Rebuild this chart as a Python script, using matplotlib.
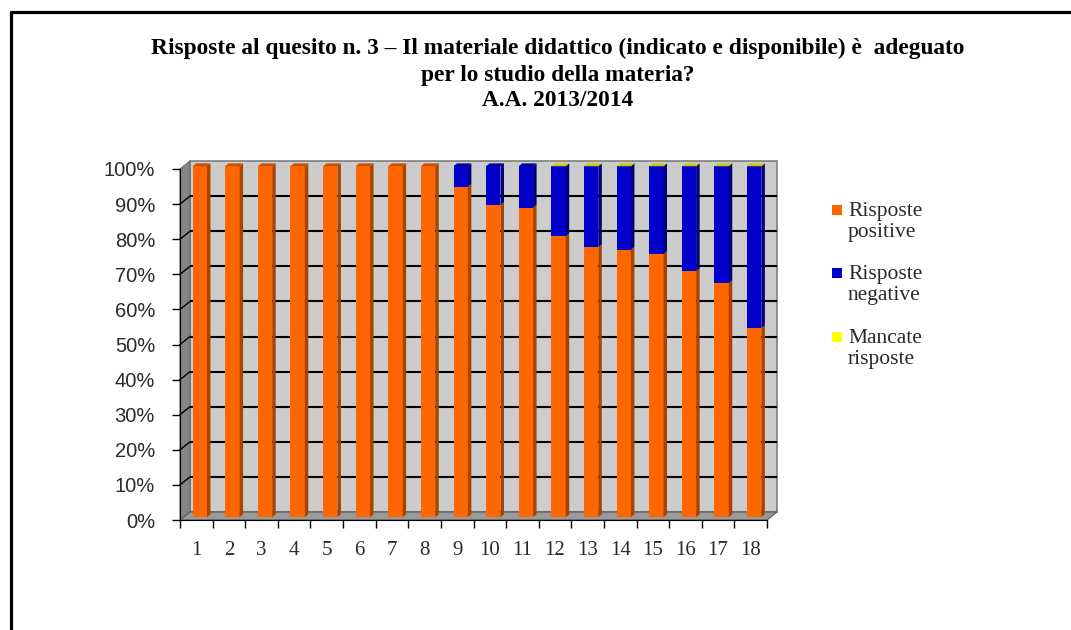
import numpy as np
import matplotlib
matplotlib.use("Agg")
import matplotlib.pyplot as plt
from matplotlib.patches import Polygon, Rectangle
from matplotlib.lines import Line2D

nan = np.nan

categories = ["1", "2", "3", "4", "5", "6", "7", "8", "9", "10",
              "11", "12", "13", "14", "15", "16", "17", "18"]
positive = [100, 100, 100, 100, 100, 100, 100, 100, 94.1, 88.9,
            88.2, 80.0, 76.9, 76.2, 75.0, 70.0, 66.7, 53.8]
negative = [nan, nan, nan, nan, nan, nan, nan, nan, 5.9, 11.1,
            11.8, 20.0, 23.1, 23.8, 25.0, 30.0, 33.3, 46.2]
missing = [nan, nan, nan, nan, nan, nan, nan, nan, nan, nan,
           nan, 0, 0, 0, 0, 0, 0, 0]
series_names = ["Risposte\npositive", "Risposte\nnegative", "Mancate\nrisposte"]
y_ticks = [0, 10, 20, 30, 40, 50, 60, 70, 80, 90, 100]

# front / side / top face colours per series
faces = [
    ("#ff6600", "#a84400", "#c85000"),
    ("#0000cc", "#000078", "#000099"),
    ("#ffff00", "#a8a800", "#cccc00"),
]

W, H = 1071, 630
fig = plt.figure(figsize=(W / 100, H / 100), dpi=100)

# front plane of the plot in pixels
x0, x1 = 180, 767
y0, y1 = 520, 169
ax = fig.add_axes([x0 / W, 1 - y0 / H, (x1 - x0) / W, (y0 - y1) / H])
n = len(categories)
ax.set_xlim(-0.5, n - 0.5)
ax.set_ylim(0, 100)
ax.set_facecolor("none")

px_x = (n) / (x1 - x0)        # data units per pixel
px_y = 100 / (y0 - y1)
DX, DY = 10 * px_x, 8 * px_y  # full depth of the box

L, R = -0.5, n - 0.5
# back wall
ax.add_patch(Polygon([(L + DX, DY), (R + DX, DY), (R + DX, 100 + DY), (L + DX, 100 + DY)],
                     closed=True, facecolor="#cccccc", edgecolor="#7f7f7f", lw=1.2,
                     zorder=0, clip_on=False))
# side wall
ax.add_patch(Polygon([(L, 0), (L + DX, DY), (L + DX, 100 + DY), (L, 100)],
                     closed=True, facecolor="#858585", edgecolor="#6a6a6a", lw=0.8,
                     zorder=0.5, clip_on=False))
# floor
ax.add_patch(Polygon([(L, 0), (R, 0), (R + DX, DY), (L + DX, DY)],
                     closed=True, facecolor="#9a9a9a", edgecolor="#555555", lw=0.8,
                     zorder=0.5, clip_on=False))
# gridlines on back and side walls
for v in y_ticks[1:-1]:
    ax.plot([L + DX, R + DX], [v + DY, v + DY], color="black", lw=1.5,
            zorder=1, clip_on=False, solid_capstyle="butt")
    ax.plot([L, L + DX], [v, v + DY], color="black", lw=1.0, zorder=1, clip_on=False)

# stacked 3D-looking columns
bw = 0.44
fx, fy = 0.35 * DX, 0.35 * DY
bx, by = 0.70 * DX, 0.70 * DY
x = np.arange(n)
base = np.zeros(n)
top_col = [None] * n
for vals, (fc, sc, tc) in zip([positive, negative, missing], faces):
    v = np.array(vals, dtype=float)
    h = np.nan_to_num(v)
    bars = ax.bar(x + fx, h, bw, bottom=base + fy, color=fc, edgecolor="none",
                  zorder=3, clip_on=False)
    for i, b in enumerate(bars):
        if np.isnan(v[i]):
            continue
        xl, yb = b.get_x(), b.get_y()
        xr, yt = xl + b.get_width(), yb + b.get_height()
        if h[i] > 0:
            ax.add_patch(Polygon([(xr, yb), (xr + bx - fx, yb + by - fy),
                                  (xr + bx - fx, yt + by - fy), (xr, yt)],
                                 closed=True, facecolor=sc, edgecolor="none",
                                 zorder=3, clip_on=False))
        top_col[i] = (tc, xl, xr, yt)
    base = base + h
for tc, xl, xr, yt in top_col:
    ax.add_patch(Polygon([(xl, yt), (xr, yt), (xr + bx - fx, yt + by - fy),
                          (xl + bx - fx, yt + by - fy)],
                         closed=True, facecolor=tc, edgecolor="none",
                         zorder=3.5, clip_on=False))

# axes lines and ticks
for s in ["top", "right"]:
    ax.spines[s].set_visible(False)
ax.spines["left"].set_color("black")
ax.spines["bottom"].set_color("black")
ax.spines["left"].set_zorder(5)
ax.spines["bottom"].set_zorder(5)
ax.set_yticks(y_ticks)
ax.set_yticklabels([f"{t}%" for t in y_ticks], fontsize=14.5,
                   fontfamily="Liberation Sans", color="#2a2a2a")
ax.tick_params(axis="y", length=6, width=1, pad=12, direction="out")
ax.set_xticks(np.arange(n + 1) - 0.5)
ax.set_xticklabels([])
ax.set_xticks(x, minor=True)
ax.set_xticklabels(categories, minor=True, fontsize=15,
                   fontfamily="Liberation Serif", color="#2a2a2a")
ax.tick_params(axis="x", which="major", length=6, width=1, direction="out")
ax.tick_params(axis="x", which="minor", length=0, pad=15)

# title
title_lines = [
    "Risposte al quesito n. 3 – Il materiale didattico (indicato e disponibile) è  adeguato",
    "per lo studio della materia?",
    "A.A. 2013/2014",
]
for line, yp in zip(title_lines, [48, 75, 101]):
    fig.text(558 / W, 1 - yp / H, line, ha="center", va="center", fontsize=16.8,
             fontweight="bold", fontfamily="Liberation Serif")

# legend
for name, (fc, _, _), yp in zip(series_names, faces, [210, 273, 337]):
    fig.patches.append(Rectangle((832 / W, 1 - (yp + 5) / H), 10 / W, 10 / H,
                                 transform=fig.transFigure, facecolor=fc,
                                 edgecolor="none"))
    fig.text(848 / W, 1 - (yp - 8) / H, name, ha="left", va="top", fontsize=15.5,
             fontfamily="Liberation Serif", color="#2a2a2a", linespacing=1.13)

# outer frame (left and top edges)
fig.add_artist(Line2D([11 / W, 11 / W, 1.0], [0.0, 1 - 12 / H, 1 - 12 / H],
                      transform=fig.transFigure, color="black", lw=2.3))

fig.savefig("out.png", dpi=100)
